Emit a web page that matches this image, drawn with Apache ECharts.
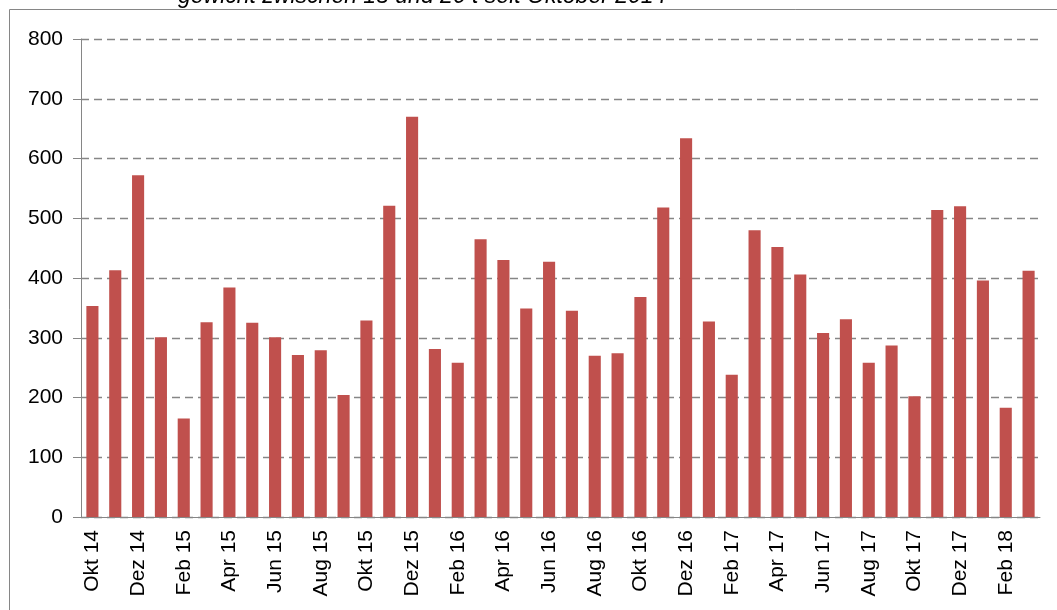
<!DOCTYPE html>
<html>
<head>
<meta charset="utf-8">
<script src="https://cdn.jsdelivr.net/npm/echarts@6/dist/echarts.min.js"></script>
<style>
	html, body { margin: 0; padding: 0; background: #fff; }
	#main { width: 1057px; height: 610px; }
</style>
</head>
<body>
<div id="main"></div>
<script>
// Monate Okt 14 bis Mär 18
var months = ['Okt 14', 'Nov 14', 'Dez 14', 'Jan 15', 'Feb 15', 'Mär 15', 'Apr 15', 'Mai 15', 'Jun 15', 'Jul 15',
	'Aug 15', 'Sep 15', 'Okt 15', 'Nov 15', 'Dez 15', 'Jan 16', 'Feb 16', 'Mär 16', 'Apr 16', 'Mai 16',
	'Jun 16', 'Jul 16', 'Aug 16', 'Sep 16', 'Okt 16', 'Nov 16', 'Dez 16', 'Jan 17', 'Feb 17', 'Mär 17',
	'Apr 17', 'Mai 17', 'Jun 17', 'Jul 17', 'Aug 17', 'Sep 17', 'Okt 17', 'Nov 17', 'Dez 17', 'Jan 18',
	'Feb 18', 'Mär 18'];
var values = [353, 413, 572, 301, 165, 326, 384, 325, 301, 271,
	279, 204, 329, 521, 670, 281, 258, 465, 430, 349,
	427, 345, 270, 274, 368, 518, 634, 327, 238, 480,
	452, 406, 308, 331, 258, 287, 202, 514, 520, 396,
	183, 412];
var yMin = 0;
var yMax = 800;
var yStep = 100;
var titleText = 'gewicht zwischen 15 und 20 t seit Oktober 2014';

$ = function(id){ return document.getElementById(id); };

initBarChart();

/**
 * Säulendiagramm
 */
function initBarChart(){
	var myChart = echarts.init($('main'), null, {renderer: 'canvas'});
	var axisColor = '#868686';
	var option = {
		animation: false,
		textStyle: { fontFamily: 'Liberation Sans, Arial, sans-serif' },
		graphic: [
			// Rahmen (oben + links), Rest abgeschnitten
			{ type: 'line', shape: { x1: 9.5, y1: 9.5, x2: 1057, y2: 9.5 }, style: { stroke: axisColor, lineWidth: 1 } },
			{ type: 'line', shape: { x1: 9.5, y1: 9.5, x2: 9.5, y2: 610 }, style: { stroke: axisColor, lineWidth: 1 } },
			{
				type: 'text', left: 178, top: -15,
				style: { text: titleText, fontSize: 23, fontStyle: 'italic', fill: '#000',
					fontFamily: 'Liberation Sans, Arial, sans-serif' }
			}
		],
		grid: { left: 81, right: 17, top: 39, bottom: 93 },
		xAxis: {
			type: 'category',
			data: months,
			axisLine: { lineStyle: { color: axisColor, width: 1 } },
			axisTick: { interval: 1, length: 6, lineStyle: { color: axisColor } },
			axisLabel: { interval: 1, rotate: 90, margin: 13, fontSize: 21, color: '#000' }
		},
		yAxis: {
			type: 'value',
			min: yMin,
			max: yMax,
			interval: yStep,
			axisLine: { show: true, lineStyle: { color: axisColor, width: 1 } },
			axisTick: { show: true, length: 8, lineStyle: { color: axisColor } },
			axisLabel: { margin: 18, fontSize: 21, color: '#000' },
			splitLine: { lineStyle: { color: axisColor, type: [8, 5], width: 1.3 } }
		},
		series: [{
			type: 'bar',
			data: values,
			barWidth: '53%',
			itemStyle: { color: '#C0504D' }
		}]
	};
	myChart.setOption(option);
}
</script>
</body>
</html>
